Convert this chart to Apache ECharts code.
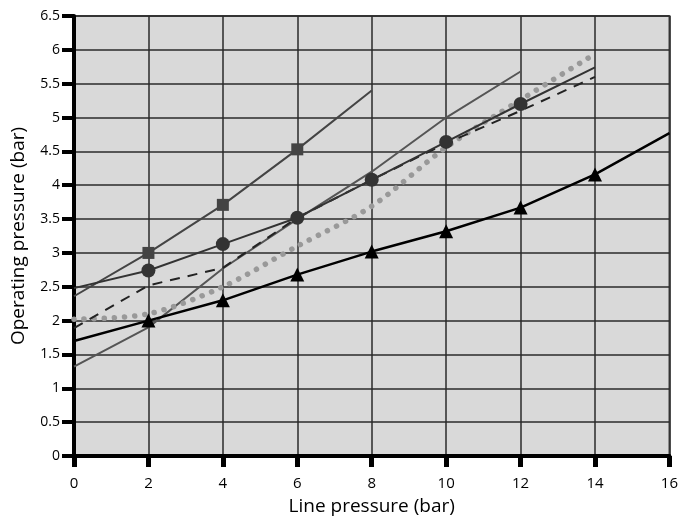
<!DOCTYPE html>
<html>
<head>
<meta charset="utf-8">
<script src="https://cdn.jsdelivr.net/npm/echarts@6/dist/echarts.min.js"></script>
<style>html,body{margin:0;padding:0;background:#fff;}#c{width:681px;height:523px;}</style>
</head>
<body>
<div id="c"></div>
<script>
// x positions (bar)
const xs = [0, 2, 4, 6, 8, 10, 12, 14, 16];
// series values
const squareVals   = [2.36, 3.0, 3.71, 4.53, 5.4];
const squareMarks  = [2, 4, 6];
const circleVals   = [2.48, 2.74, 3.13, 3.52, 4.08, 4.64, 5.2, 5.74];
const circleMarks  = [2, 4, 6, 8, 10, 12];
const plainVals    = [1.32, 1.9, 2.77, 3.5, 4.2, 5.0, 5.68];
const dashedVals   = [1.89, 2.52, 2.78, 3.52, 4.08, 4.62, 5.1, 5.6];
const dottedVals   = [2.02, 2.1, 2.5, 3.1, 3.69, 4.56, 5.26, 5.94];
const triangleVals = [1.7, 2.0, 2.3, 2.68, 3.02, 3.32, 3.67, 4.16, 4.77];
const triangleMarks = [2, 4, 6, 8, 10, 12, 14];
// axis labels
const xTitle = 'Line pressure (bar)';
const yTitle = 'Operating pressure (bar)';

function pts(vals, marks) {
  return vals.map((v, i) => {
    const x = xs[i];
    const item = { value: [x, v] };
    if (marks && marks.indexOf(x) < 0) item.symbol = 'none';
    return item;
  });
}

const FONT = 'Open Sans';
const chart = echarts.init(document.getElementById('c'), null, { renderer: 'canvas' });
chart.setOption({
  animation: false,
  backgroundColor: '#fff',
  textStyle: { fontFamily: FONT },
  grid: {
    left: 74, right: 9, top: 16, bottom: 67,
    show: true, backgroundColor: '#d9d9d9', borderColor: '#555', borderWidth: 2
  },
  xAxis: {
    type: 'value', min: 0, max: 16, interval: 2,
    name: xTitle, nameLocation: 'middle', nameGap: 41,
    nameTextStyle: { fontSize: 19, color: '#000', fontFamily: FONT },
    axisLine: { show: true, onZero: false, lineStyle: { color: '#000', width: 4 } },
    axisTick: { show: true, inside: false, length: 11, lineStyle: { color: '#000', width: 5 } },
    axisLabel: { fontSize: 15, color: '#000', margin: 20, fontFamily: FONT },
    splitLine: { show: true, lineStyle: { color: '#2a2a2a', width: 1.5 } }
  },
  yAxis: {
    type: 'value', min: 0, max: 6.5, interval: 0.5,
    name: yTitle, nameLocation: 'middle', nameGap: 46, nameRotate: 90,
    nameTextStyle: { fontSize: 19, color: '#000', fontFamily: FONT },
    axisLine: { show: true, onZero: false, lineStyle: { color: '#000', width: 4 } },
    axisTick: { show: true, inside: false, length: 12, lineStyle: { color: '#000', width: 4 } },
    axisLabel: { fontSize: 14, color: '#000', margin: 14, fontFamily: FONT },
    splitLine: { show: true, lineStyle: { color: '#2a2a2a', width: 1.5 } }
  },
  series: [
    {
      type: 'line', data: pts(plainVals, []), symbol: 'none',
      lineStyle: { color: '#555', width: 2 }, z: 2
    },
    {
      type: 'line', data: pts(dottedVals, []), symbol: 'none', smooth: 0.3,
      lineStyle: { color: '#999', width: 5.5, type: [0.1, 10], cap: 'round' }, z: 3
    },
    {
      type: 'line', data: pts(dashedVals, []), symbol: 'none',
      lineStyle: { color: '#222', width: 2, type: [10, 8] }, z: 4
    },
    {
      type: 'line', data: pts(squareVals, squareMarks), symbol: 'rect', symbolSize: 12,
      itemStyle: { color: '#444' }, lineStyle: { color: '#444', width: 2 }, z: 5
    },
    {
      type: 'line', data: pts(circleVals, circleMarks), symbol: 'circle', symbolSize: 14,
      itemStyle: { color: '#333' }, lineStyle: { color: '#333', width: 2 }, z: 5
    },
    {
      type: 'line', data: pts(triangleVals, triangleMarks), symbol: 'triangle', symbolSize: 14,
      itemStyle: { color: '#000' }, lineStyle: { color: '#000', width: 2.5 }, z: 6
    }
  ]
});
</script>
</body>
</html>
